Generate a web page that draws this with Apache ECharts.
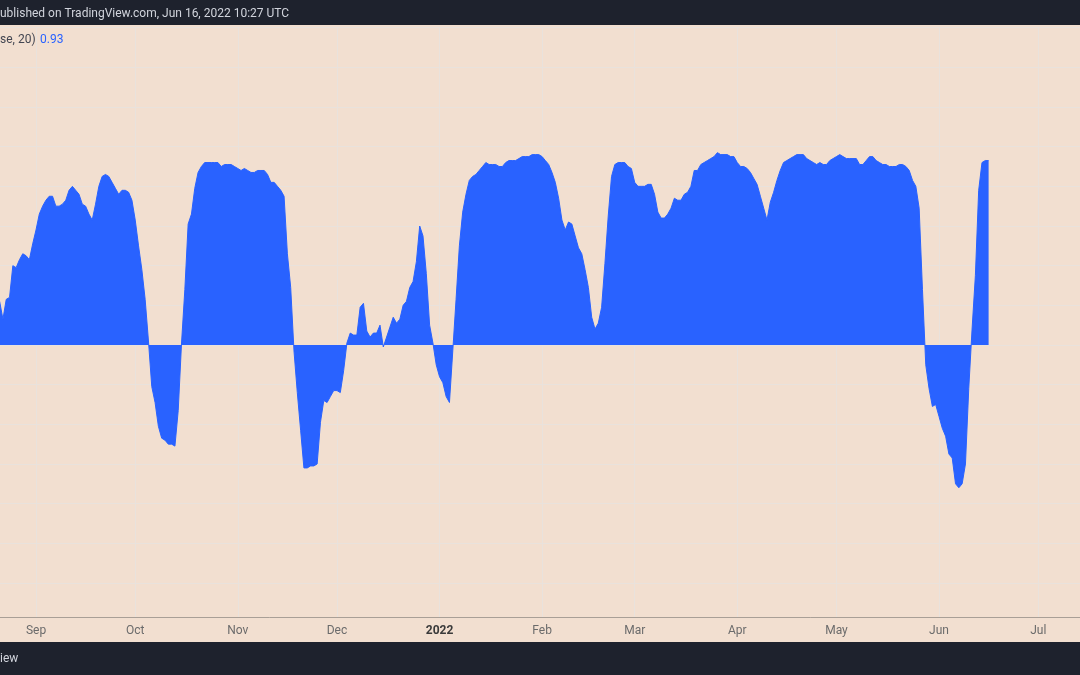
<!DOCTYPE html>
<html><head><meta charset="utf-8">
<script src="https://cdn.jsdelivr.net/npm/echarts@6/dist/echarts.min.js"></script>
<style>html,body{margin:0;padding:0;background:#f2dfd0;overflow:hidden}#c{width:1080px;height:675px}</style>
</head><body><div id="c"></div>
<script>
// ---- data ----
const startDate = '2021-08-21';   // first daily value
const values = [
 0.22,0.13,0.23,0.24,0.40,0.39,0.43,0.46,0.45,0.43,
 0.51,0.58,0.66,0.70,0.73,0.75,0.75,0.70,0.70,0.71,
 0.73,0.78,0.80,0.78,0.76,0.71,0.70,0.66,0.63,0.71,
 0.80,0.85,0.86,0.85,0.82,0.79,0.76,0.78,0.78,0.77,
 0.73,0.63,0.50,0.38,0.23,0.02,-0.21,-0.29,-0.41,-0.47,
 -0.48,-0.50,-0.50,-0.51,-0.33,0.01,0.28,0.61,0.66,0.79,
 0.87,0.90,0.92,0.92,0.92,0.92,0.92,0.90,0.91,0.91,
 0.91,0.90,0.89,0.88,0.89,0.88,0.87,0.87,0.88,0.88,
 0.88,0.86,0.82,0.82,0.80,0.78,0.75,0.46,0.29,-0.03,
 -0.24,-0.43,-0.62,-0.62,-0.61,-0.61,-0.60,-0.39,-0.28,-0.29,
 -0.26,-0.23,-0.23,-0.24,-0.13,0.01,0.06,0.05,0.05,0.19,
 0.21,0.07,0.04,0.06,0.06,0.10,-0.01,0.04,0.09,0.14,
 0.11,0.13,0.20,0.22,0.29,0.32,0.42,0.60,0.55,0.36,
 0.10,0.01,-0.10,-0.16,-0.19,-0.26,-0.29,-0.03,0.23,0.50,
 0.67,0.76,0.83,0.85,0.86,0.88,0.90,0.92,0.91,0.91,
 0.91,0.90,0.90,0.92,0.93,0.93,0.93,0.94,0.95,0.95,
 0.95,0.96,0.96,0.96,0.95,0.93,0.91,0.87,0.82,0.74,
 0.63,0.58,0.62,0.61,0.55,0.49,0.46,0.38,0.29,0.14,
 0.08,0.11,0.19,0.41,0.65,0.85,0.91,0.92,0.92,0.92,
 0.90,0.89,0.82,0.80,0.80,0.80,0.81,0.81,0.76,0.67,
 0.64,0.64,0.66,0.69,0.74,0.73,0.73,0.76,0.77,0.80,
 0.88,0.88,0.91,0.92,0.93,0.94,0.95,0.97,0.96,0.96,
 0.96,0.95,0.95,0.92,0.90,0.90,0.89,0.87,0.84,0.81,
 0.75,0.69,0.63,0.72,0.77,0.83,0.88,0.92,0.93,0.94,
 0.95,0.96,0.96,0.96,0.94,0.93,0.92,0.91,0.92,0.91,
 0.91,0.93,0.94,0.95,0.96,0.95,0.94,0.94,0.94,0.94,
 0.91,0.91,0.93,0.95,0.95,0.93,0.92,0.91,0.91,0.90,
 0.90,0.90,0.91,0.91,0.90,0.88,0.83,0.80,0.69,0.28,
 -0.10,-0.22,-0.31,-0.30,-0.36,-0.42,-0.46,-0.55,-0.57,-0.70,
 -0.72,-0.70,-0.60,-0.22,0.08,0.35,0.78,0.92,0.93,0.93
];
const monthTicks = ['2021-09-01','2021-10-01','2021-11-01','2021-12-01','2022-01-01','2022-02-01','2022-03-01','2022-04-01','2022-05-01','2022-06-01','2022-07-01'];
const monthLabels = ['Sep','Oct','Nov','Dec','2022','Feb','Mar','Apr','May','Jun','Jul'];
const yMin = -1.4, yMax = 1.6, yStep = 0.2;
const legendName = 'se, 20)';
const headerText = 'ublished on TradingView.com, Jun 16, 2022 10:27 UTC';
const footerText = 'iew';

// ---- build ----
const DAY = 86400000;
const t0 = Date.parse(startDate);
const seriesData = values.map((v, i) => [t0 + i * DAY, v]);
const tickMs = monthTicks.map(d => Date.parse(d));
const labelMap = {};
tickMs.forEach((t, i) => { labelMap[t] = monthLabels[i]; });
const xMin = Date.parse('2021-09-01') - 10.884 * DAY;
const xMax = Date.parse('2021-09-01') + 315.63 * DAY;

const BG = '#f2dfd0', GRID = '#e9e2dc', BLUE = '#2962ff', DARK = '#1e222d';
const FONT = 'Roboto, "Noto Sans", sans-serif';

const chart = echarts.init(document.getElementById('c'), null, {renderer: 'canvas'});
chart.setOption({
  backgroundColor: BG,
  animation: false,
  grid: {left: 0, right: 0, top: 27.7, bottom: 52.4, containLabel: false},
  xAxis: [{
    type: 'value', min: xMin, max: xMax, position: 'bottom', z: 0,
    axisLine: {show: false},
    axisTick: {show: false, customValues: tickMs},
    axisLabel: {show: false},
    splitLine: {show: true, lineStyle: {color: GRID, width: 1}}
  }, {
    type: 'value', min: xMin, max: xMax, position: 'bottom', offset: -5.6, z: 20,
    axisLine: {show: true, lineStyle: {color: '#a99f96', width: 1}},
    axisTick: {show: false, customValues: tickMs},
    splitLine: {show: false},
    axisLabel: {
      show: true, customValues: tickMs, margin: 8, fontSize: 12, color: '#6b6b6b', fontFamily: FONT,
      formatter: v => {
        const s = labelMap[v] || '';
        return /^\d{4}$/.test(s) ? '{y|' + s + '}' : s;
      },
      rich: {y: {fontWeight: 'bold', color: '#3a3a3a', fontSize: 12, fontFamily: FONT}}
    }
  }],
  yAxis: {
    type: 'value', min: yMin, max: yMax, interval: yStep, z: 0,
    axisLine: {show: false}, axisTick: {show: false}, axisLabel: {show: false},
    splitLine: {show: true, lineStyle: {color: GRID, width: 1}}
  },
  series: [{
    type: 'line', xAxisIndex: 0, data: seriesData, showSymbol: false, smooth: false,
    lineStyle: {color: BLUE, width: 1}, itemStyle: {color: BLUE},
    areaStyle: {color: BLUE, opacity: 1, origin: 0}, z: 2
  }],
  graphic: [
    {type: 'rect', z: 10, shape: {x: 0, y: 617.5, width: 1080, height: 25}, style: {fill: BG}},
    {type: 'rect', z: 30, shape: {x: 0, y: 0, width: 1080, height: 25}, style: {fill: DARK}},
    {type: 'rect', z: 30, shape: {x: 0, y: 642, width: 1080, height: 33}, style: {fill: DARK}},
    {type: 'text', z: 31, x: 0, y: 14, style: {text: headerText, fill: '#d1d4dc', font: '12px ' + FONT, verticalAlign: 'middle'}},
    {type: 'text', z: 31, x: 0, y: 659, style: {text: footerText, fill: '#d1d4dc', font: '12px ' + FONT, verticalAlign: 'middle'}},
    {type: 'text', z: 31, x: 0, y: 40, style: {text: legendName, fill: '#434651', font: '12px ' + FONT, verticalAlign: 'middle'}},
    {type: 'text', z: 31, x: 40, y: 40, style: {text: values[values.length - 1].toFixed(2), fill: BLUE, font: '12px ' + FONT, verticalAlign: 'middle'}}
  ]
});
</script>
</body></html>
